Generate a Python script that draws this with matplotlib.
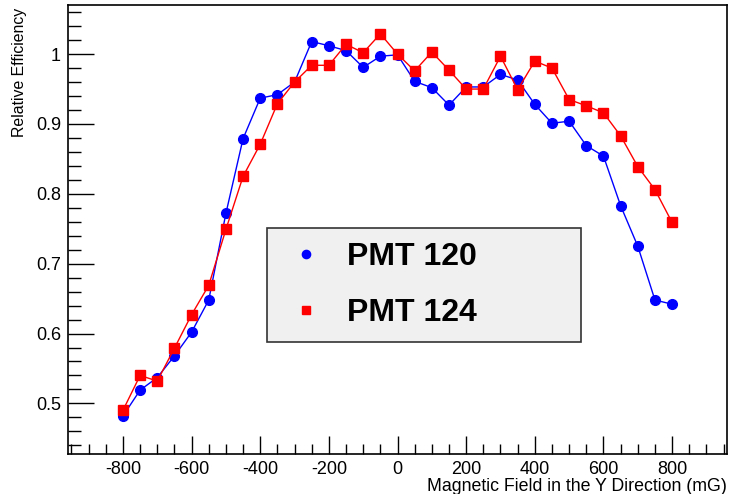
import numpy as np
import matplotlib
matplotlib.use("Agg")
import matplotlib.pyplot as plt
from matplotlib.ticker import MultipleLocator, FuncFormatter

# field values (mG)
field = list(range(-800, 801, 50))

# PMT 120 relative efficiency
pmt120 = [0.482, 0.519, 0.537, 0.568, 0.602, 0.648, 0.772, 0.879, 0.937, 0.942,
          0.960, 1.018, 1.012, 1.005, 0.981, 0.997, 0.999, 0.961, 0.952, 0.927,
          0.953, 0.953, 0.971, 0.963, 0.928, 0.901, 0.904, 0.869, 0.854, 0.783,
          0.725, 0.648, 0.642]

# PMT 124 relative efficiency
pmt124 = [0.490, 0.540, 0.532, 0.579, 0.627, 0.669, 0.749, 0.825, 0.871, 0.929,
          0.960, 0.984, 0.984, 1.014, 1.002, 1.029, 1.000, 0.976, 1.003, 0.977,
          0.950, 0.950, 0.997, 0.949, 0.990, 0.980, 0.935, 0.926, 0.916, 0.883,
          0.839, 0.806, 0.759]

plt.rcParams['font.family'] = ['Liberation Sans', 'DejaVu Sans']

fig = plt.figure(figsize=(7.29, 4.94), dpi=100)
ax = fig.add_axes([0.0933, 0.0810, 0.904, 0.909])

ax.plot(field, pmt120, color='#0000ff', lw=1, marker='o', ms=7, mec='#0000ff',
        label='PMT 120', zorder=3)
ax.plot(field, pmt124, color='#ff0000', lw=1, marker='s', ms=7, mec='#ff0000',
        label='PMT 124', zorder=3)

ax.set_xlim(-960, 960)
ax.set_ylim(0.4276, 1.0704)

ax.xaxis.set_major_locator(MultipleLocator(200))
ax.xaxis.set_minor_locator(MultipleLocator(50))
ax.yaxis.set_major_locator(MultipleLocator(0.1))
ax.yaxis.set_minor_locator(MultipleLocator(0.02))
ax.yaxis.set_major_formatter(FuncFormatter(lambda v, p: '%g' % round(v, 2)))
ax.xaxis.set_major_formatter(FuncFormatter(lambda v, p: '%d' % v))

ax.tick_params(which='both', direction='in', top=False, right=False, labelsize=13,
               width=1)
ax.tick_params(axis='y', which='major', length=19, pad=5)
ax.tick_params(axis='y', which='minor', length=9)
ax.tick_params(axis='x', which='major', length=13, pad=5)
ax.tick_params(axis='x', which='minor', length=7)
for s in ax.spines.values():
    s.set_linewidth(1.2)

ax.set_xlabel('Magnetic Field in the Y Direction (mG)', fontsize=12.75)
ax.xaxis.set_label_coords(1.0, -0.053)
ax.xaxis.label.set_horizontalalignment('right')
ax.xaxis.label.set_verticalalignment('top')
ax.set_ylabel('Relative Efficiency', fontsize=11.4)
ax.yaxis.set_label_coords(-0.062, 0.993)
ax.yaxis.label.set_verticalalignment('bottom')
ax.yaxis.label.set_horizontalalignment('right')

leg = ax.legend(loc='upper left', bbox_to_anchor=(0.3015, 0.256, 0.4765, 0.247),
                mode='expand', prop={'weight': 'bold', 'size': 23}, frameon=True,
                fancybox=False, edgecolor='#333333', facecolor='#f0f0f0',
                framealpha=1, borderpad=0.43, labelspacing=0.825,
                handlelength=1.6, handletextpad=0.47, borderaxespad=0,
                markerscale=0.85)
leg.get_frame().set_linewidth(1.2)
for h in leg.legend_handles:
    h.set_linestyle('none')

fig.savefig('out.png', dpi=100)
